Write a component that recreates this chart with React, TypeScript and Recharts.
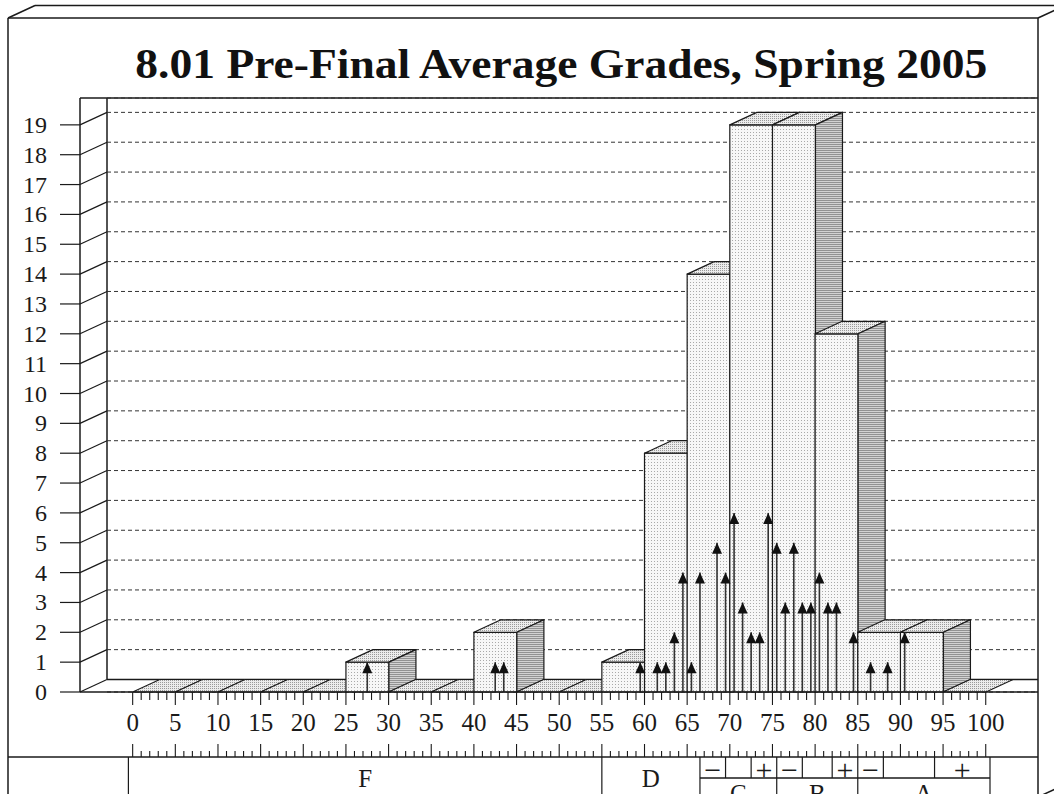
import React from "react";
import { ComposedChart, Bar, Scatter, ErrorBar, XAxis, YAxis, CartesianGrid } from "recharts";

// 5-point histogram bins (by bin centre) and how many students fell in each
const BIN_MIDS = [2.5, 7.5, 12.5, 17.5, 22.5, 27.5, 32.5, 37.5, 42.5, 47.5, 52.5, 57.5, 62.5, 67.5, 72.5, 77.5, 82.5, 87.5, 92.5, 97.5];
const BIN_COUNTS = [0, 0, 0, 0, 0, 1, 0, 0, 2, 0, 0, 1, 8, 14, 19, 19, 12, 2, 2, 0];

// per-point counts, drawn as arrows
const SCORE_POINTS = [27.5, 42.5, 43.5, 59.5, 61.5, 62.5, 63.5, 64.5, 65.5, 66.5, 68.5, 69.5, 70.5, 71.5, 72.5, 73.5, 74.5, 75.5, 76.5, 77.5, 78.5, 79.5, 80.5, 81.5, 82.5, 84.5, 86.5, 88.5, 90.5];
const SCORE_COUNTS = [1, 1, 1, 1, 1, 1, 2, 4, 1, 4, 5, 4, 6, 3, 2, 2, 6, 5, 3, 5, 3, 3, 4, 3, 3, 2, 1, 1, 2];

const Y_TICKS = [0, 1, 2, 3, 4, 5, 6, 7, 8, 9, 10, 11, 12, 13, 14, 15, 16, 17, 18, 19];
const GRID_TICKS = [1, 2, 3, 4, 5, 6, 7, 8, 9, 10, 11, 12, 13, 14, 15, 16, 17, 18, 19];
const X_LABEL_TICKS = [0, 5, 10, 15, 20, 25, 30, 35, 40, 45, 50, 55, 60, 65, 70, 75, 80, 85, 90, 95, 100];
const RULER_TICKS = Array.from({ length: 101 }, (_, i) => i);

// letter grade table under the axis
const LETTER_GRADES = ["F", "D", "C", "B", "A"];
const LETTER_EDGES = [-0.5, 55, 66.5, 75.5, 85, 100.5];
const SPLIT_LETTERS = ["C", "B", "A"];
const SIGN_LABELS = ["\u2212", "", "+", "\u2212", "", "+", "\u2212", "", "+"];
const SIGN_EDGES = [66.5, 69.5, 72.5, 75.5, 78.5, 82, 85, 88, 94, 100.5];

const TITLE = "8.01 Pre-Final Average Grades, Spring 2005";

// layout
const W = 1054;
const H = 794;
const PLOT_L = 80;
const PLOT_R = 1038;
const PLOT_T = 98;
const PLOT_B = 692;
const X_DOMAIN: [number, number] = [-0.5, 100.5];
const PAD = { left: 48.4, right: 48 };
const Y_MAX = 19.9;
const DX = 27;
const DY = 12.5;
const WALL_X = PLOT_L + DX;
const RULER_H = 65;
const GRADES_H = H - PLOT_B - RULER_H;
const BACK_SHIFT = DY / ((PLOT_B - PLOT_T) / Y_MAX);
const Y_TICK_SIZE = 20;
const Y_TICK_MARGIN = 13;

const INK = "#1a1a1a";
const SERIF = "'Liberation Serif', 'DejaVu Serif', serif";

const xPx = (v: number) =>
  PLOT_L + PAD.left + ((v - X_DOMAIN[0]) * (PLOT_R - PAD.right - PLOT_L - PAD.left)) / (X_DOMAIN[1] - X_DOMAIN[0]);

const binData = BIN_MIDS.map((mid, i) => ({ mid, count: BIN_COUNTS[i] }));
const pointData = SCORE_POINTS.map((score, i) => ({
  score,
  count: SCORE_COUNTS[i],
  err: [SCORE_COUNTS[i], 0],
}));

const mid = (a: number, b: number) => (a + b) / 2;
const letterCenters = LETTER_GRADES.map((_, i) => mid(LETTER_EDGES[i], LETTER_EDGES[i + 1]));
const signCenters = SIGN_LABELS.map((_, i) => mid(SIGN_EDGES[i], SIGN_EDGES[i + 1]));
const GRADE_TICKS = Array.from(
  new Set([
    ...LETTER_EDGES,
    ...SIGN_EDGES,
    ...letterCenters,
    ...signCenters.filter((_, i) => SIGN_LABELS[i] !== ""),
  ])
);

// 3D box for one histogram bin
function Box3D(props: any) {
  const { x, y, width, height } = props;
  const base = y + height;
  if (!height || height < 0.5) {
    return (
      <polygon
        points={`${x},${base} ${x + width},${base} ${x + width + DX},${base - DY} ${x + DX},${base - DY}`}
        fill="url(#pTop)"
        stroke={INK}
        strokeWidth={1.1}
      />
    );
  }
  return (
    <g stroke={INK} strokeWidth={1.2} strokeLinejoin="round">
      <rect x={x} y={y} width={width} height={height} fill="url(#pFront)" />
      <polygon
        points={`${x},${y} ${x + width},${y} ${x + width + DX},${y - DY} ${x + DX},${y - DY}`}
        fill="url(#pTop)"
      />
      <polygon
        points={`${x + width},${y} ${x + width + DX},${y - DY} ${x + width + DX},${base - DY} ${x + width},${base}`}
        fill="url(#pSide)"
      />
    </g>
  );
}

function ArrowHead(props: any) {
  const { cx, cy } = props;
  return <polygon points={`${cx},${cy} ${cx - 5},${cy + 11} ${cx + 5},${cy + 11}`} fill="#111" />;
}

function YTick(props: any) {
  const { x, y, payload } = props;
  const ax = x + Y_TICK_SIZE + Y_TICK_MARGIN;
  return (
    <g>
      <text x={x} y={y} dy={8} textAnchor="end" fontSize={24} fontFamily={SERIF} fill={INK}>
        {payload.value}
      </text>
      <line x1={ax} y1={y} x2={ax + DX} y2={y - DY} stroke={INK} strokeWidth={1.2} />
    </g>
  );
}

function RulerTick(props: any) {
  const { x, y, payload } = props;
  const v = payload.value;
  const major = X_LABEL_TICKS.includes(v);
  return (
    <g stroke={INK} strokeWidth={1.1}>
      <line x1={x} x2={x} y1={y} y2={y + (major ? 13 : 8)} />
      <line x1={x} x2={x} y1={y + RULER_H - (major ? 13 : 6)} y2={y + RULER_H} />
      {major && (
        <text x={x} y={y + 39} textAnchor="middle" stroke="none" fill={INK} fontSize={25} fontFamily={SERIF}>
          {v}
        </text>
      )}
    </g>
  );
}

function GradeTick(props: any) {
  const { x, y, payload } = props;
  const v = payload.value;
  if (LETTER_EDGES.includes(v)) {
    return <line x1={x} x2={x} y1={y} y2={y + 50} stroke={INK} strokeWidth={1.2} />;
  }
  if (SIGN_EDGES.includes(v)) {
    return <line x1={x} x2={x} y1={y} y2={y + 21} stroke={INK} strokeWidth={1.2} />;
  }
  const li = letterCenters.indexOf(v);
  if (li >= 0) {
    const label = LETTER_GRADES[li];
    const split = SPLIT_LETTERS.includes(label);
    return (
      <text x={x} y={y + (split ? 45 : 30)} textAnchor="middle" fontSize={25} fontFamily={SERIF} fill={INK}>
        {label}
      </text>
    );
  }
  const si = signCenters.indexOf(v);
  if (si >= 0) {
    return (
      <text x={x} y={y + 23} textAnchor="middle" fontSize={30} fontFamily={SERIF} fill={INK}>
        {SIGN_LABELS[si]}
      </text>
    );
  }
  return <g />;
}

function Backdrop() {
  return (
    <svg width={W} height={H} style={{ position: "absolute", left: 0, top: 0 }}>
      <defs>
        <pattern id="pFront" width="3" height="3" patternUnits="userSpaceOnUse">
          <rect width="3" height="3" fill="#f7f7f7" />
          <rect width="1" height="1" fill="#a9a9a9" />
        </pattern>
        <pattern id="pTop" width="2" height="2" patternUnits="userSpaceOnUse">
          <rect width="2" height="2" fill="#ececec" />
          <rect width="1" height="1" fill="#9a9a9a" />
        </pattern>
        <pattern id="pSide" width="4" height="2" patternUnits="userSpaceOnUse">
          <rect width="4" height="2" fill="#d2d2d2" />
          <rect width="4" height="1" fill="#929292" />
        </pattern>
      </defs>
      <g stroke={INK} strokeWidth={1.5} fill="none">
        {/* outer 3D frame */}
        <line x1={8} y1={18} x2={PLOT_R} y2={18} />
        <line x1={8} y1={18} x2={8} y2={H + 10} />
        <line x1={PLOT_R} y1={18} x2={PLOT_R} y2={H + 10} />
        <line x1={8 + DX} y1={18 - DY} x2={W + 20} y2={18 - DY} />
        <line x1={8} y1={18} x2={8 + DX} y2={18 - DY} />
        <line x1={PLOT_R} y1={18} x2={PLOT_R + DX} y2={18 - DY} />
        <line x1={PLOT_R} y1={797} x2={PLOT_R + DX} y2={797 - DY} />
        {/* chart box */}
        <line x1={PLOT_L} y1={PLOT_T} x2={PLOT_R} y2={PLOT_T} />
        <line x1={WALL_X} y1={PLOT_T} x2={WALL_X} y2={PLOT_B - DY} />
        <line x1={WALL_X} y1={PLOT_B - DY} x2={PLOT_R} y2={PLOT_B - DY} />
        {/* grade table */}
        <line x1={8} y1={PLOT_B + RULER_H} x2={PLOT_R} y2={PLOT_B + RULER_H} />
        <line
          x1={xPx(SIGN_EDGES[0])}
          y1={PLOT_B + RULER_H + 21}
          x2={xPx(SIGN_EDGES[SIGN_EDGES.length - 1])}
          y2={PLOT_B + RULER_H + 21}
        />
      </g>
      <text
        x={mid(xPx(0), xPx(100.5))}
        y={78}
        textAnchor="middle"
        fontFamily="'Liberation Serif', serif"
        fontWeight="bold"
        fontSize={42}
        fill="#111"
        textLength={852}
        lengthAdjust="spacingAndGlyphs"
      >
        {TITLE}
      </text>
    </svg>
  );
}

export default function App() {
  return (
    <div style={{ position: "absolute", left: 0, top: 0, width: W, height: H, background: "#fff", overflow: "hidden" }}>
      <Backdrop />
      <div style={{ position: "absolute", left: 0, top: 0 }}>
        <ComposedChart
          width={W}
          height={H}
          data={binData}
          margin={{ top: PLOT_T, right: W - PLOT_R, bottom: 0, left: 0 }}
          barCategoryGap={0}
          barGap={0}
        >
          <CartesianGrid
            xAxisId="a-main"
            yAxisId="z-back"
            vertical={false}
            x={WALL_X}
            width={PLOT_R - WALL_X}
            stroke="#333"
            strokeDasharray="4 3"
          />
          <XAxis
            xAxisId="a-main"
            type="number"
            dataKey="mid"
            domain={X_DOMAIN}
            padding={PAD}
            ticks={RULER_TICKS}
            interval={0}
            height={RULER_H}
            tickSize={0}
            tickMargin={0}
            tickLine={false}
            axisLine={{ stroke: INK, strokeWidth: 1.5 }}
            tick={(p: any) => <RulerTick {...p} />}
          />
          <XAxis
            xAxisId="b-grades"
            type="number"
            dataKey="mid"
            domain={X_DOMAIN}
            padding={PAD}
            ticks={GRADE_TICKS}
            interval={0}
            height={GRADES_H}
            tickSize={0}
            tickMargin={0}
            tickLine={false}
            axisLine={false}
            tick={(p: any) => <GradeTick {...p} />}
          />
          <XAxis xAxisId="c-pts" type="number" dataKey="score" domain={X_DOMAIN} padding={PAD} height={0} hide />
          <YAxis
            yAxisId="a-y"
            type="number"
            domain={[0, Y_MAX]}
            ticks={Y_TICKS}
            interval={0}
            width={PLOT_L}
            tickSize={Y_TICK_SIZE}
            tickMargin={Y_TICK_MARGIN}
            tickLine={{ stroke: INK, strokeWidth: 1.2 }}
            axisLine={{ stroke: INK, strokeWidth: 1.5 }}
            tick={(p: any) => <YTick {...p} />}
          />
          <YAxis
            yAxisId="z-back"
            type="number"
            orientation="right"
            width={0}
            domain={[-BACK_SHIFT, Y_MAX - BACK_SHIFT]}
            allowDataOverflow
            ticks={GRID_TICKS}
            interval={0}
            hide
          />
          <Bar
            xAxisId="a-main"
            yAxisId="a-y"
            dataKey="count"
            isAnimationActive={false}
            shape={(p: any) => <Box3D {...p} />}
          />
          <Scatter
            data={pointData}
            xAxisId="c-pts"
            yAxisId="a-y"
            dataKey="count"
            isAnimationActive={false}
            shape={(p: any) => <ArrowHead {...p} />}
          >
            <ErrorBar dataKey="err" direction="y" width={0} stroke="#333" strokeWidth={1.6} isAnimationActive={false} />
          </Scatter>
        </ComposedChart>
      </div>
    </div>
  );
}
